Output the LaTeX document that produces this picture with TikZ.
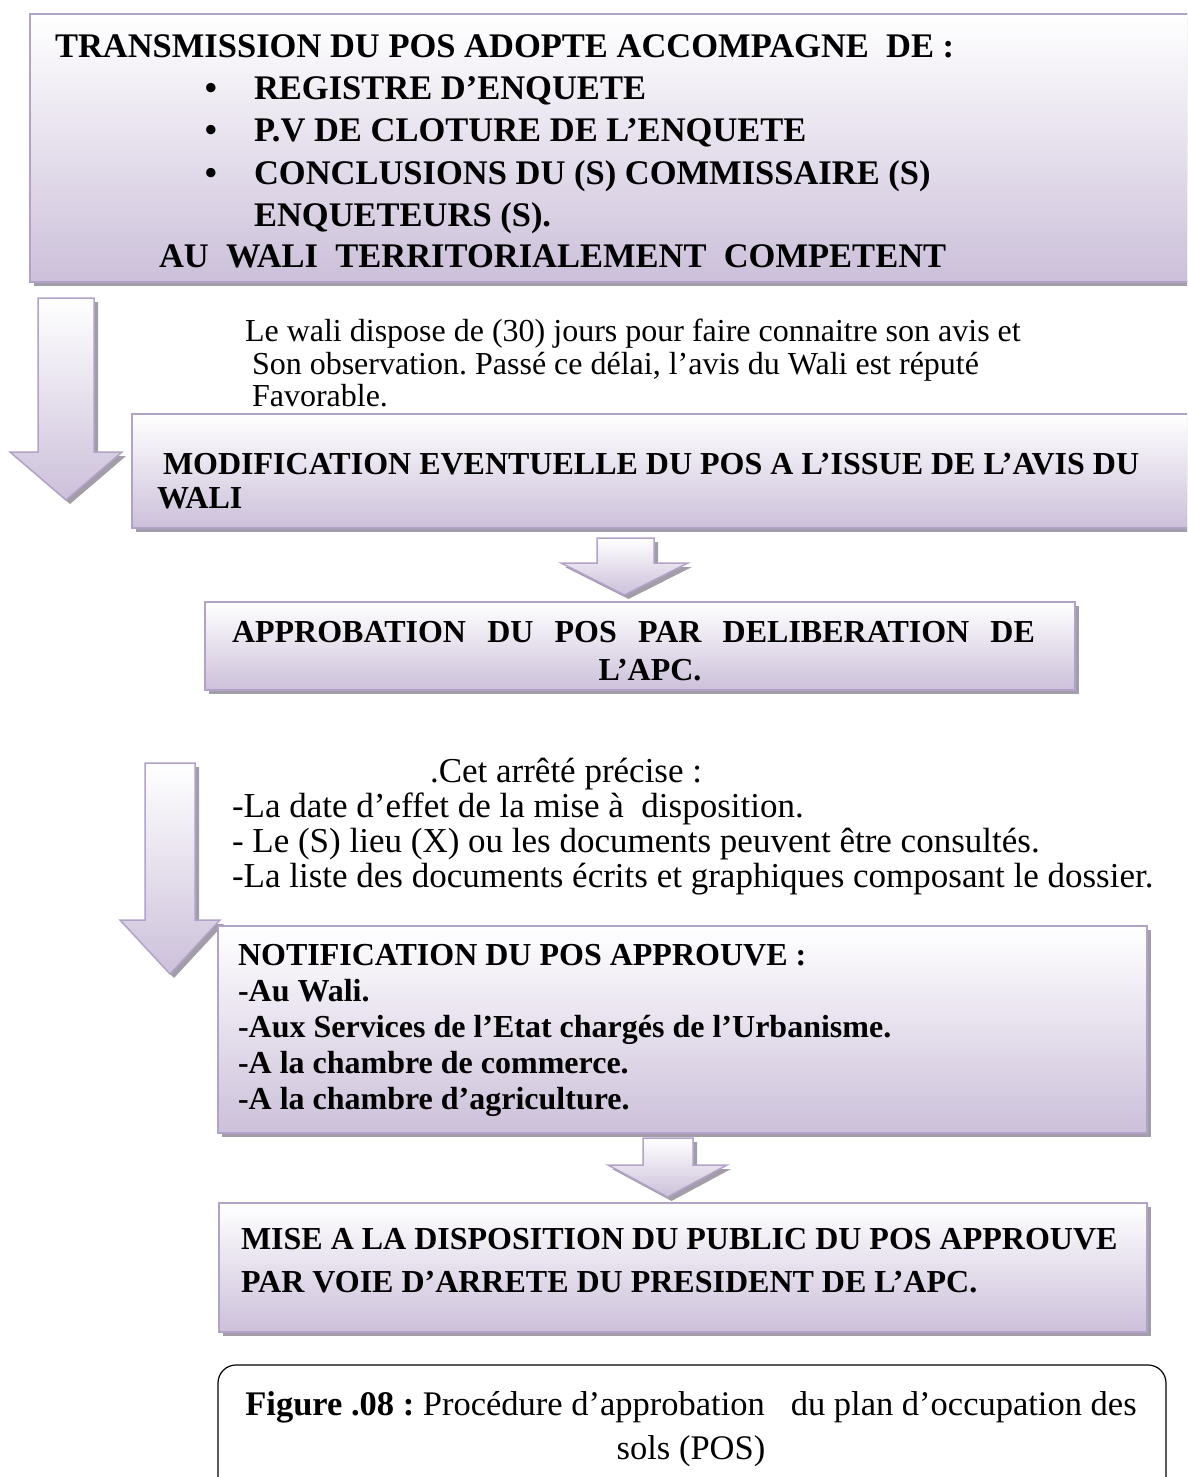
\documentclass[tikz,border=0pt]{standalone}
\usepackage{fontspec}
\setmainfont{Liberation Serif}[BoldFont={Liberation Serif Bold}]
\frenchspacing

\definecolor{lavline}{HTML}{B3A2C7}
\definecolor{lavfill}{HTML}{CCC0DA}
\definecolor{shadowc}{HTML}{A29DA8}

\tikzset{
  boxfill/.style={draw=lavline, line width=1.5pt, top color=white, bottom color=lavfill},
  lbl/.style={anchor=base west, inner sep=0pt, outer sep=0pt},
  clbl/.style={anchor=base, inner sep=0pt, outer sep=0pt},
}

\newcommand{\capsbig}{\fontsize{34.5}{40}\selectfont\bfseries}
\newcommand{\capsmid}{\fontsize{32}{37}\selectfont\bfseries}
\newcommand{\plaintext}{\fontsize{32}{36}\selectfont}
\newcommand{\listtext}{\fontsize{35}{38}\selectfont}
\newcommand{\captext}{\fontsize{34.5}{40}\selectfont}

% box with grey shadow: x1 y1 x2 y2
\newcommand{\blockbox}[4]{%
  \fill[shadowc] (#1+4,#2+4) rectangle (#3+4,#4+4);
  \shadedraw[boxfill] (#1,#2) rectangle (#3,#4);}

% down arrow: shaft left, shaft right, head left, head right, top, shoulder, tip
\newcommand{\blockarrow}[7]{%
  \fill[shadowc] (#1+4,#5+4) -- (#2+4,#5+4) -- (#2+4,#6+4) -- (#4+4,#6+4)
    -- ({(#3+#4)/2+4},#7+4) -- (#3+4,#6+4) -- (#1+4,#6+4) -- cycle;
  \shadedraw[boxfill] (#1,#5) -- (#2,#5) -- (#2,#6) -- (#4,#6)
    -- ({(#3+#4)/2},#7) -- (#3,#6) -- (#1,#6) -- cycle;}

\begin{document}
\begin{tikzpicture}[x=1pt,y=-1pt]
\clip (0,0) rectangle (1187,1477);
\useasboundingbox (0,0) rectangle (1187,1477);

% transmission
\blockbox{30}{14}{1200}{282}
\node[lbl] (trans) at (55,58) {\capsbig TRANSMISSION DU POS ADOPTE ACCOMPAGNE\ \ DE :};
\node[clbl] (dot1) at (211,100) {\capsbig •};
\node[clbl] (dot2) at (211,142) {\capsbig •};
\node[clbl] (dot3) at (211,184) {\capsbig •};
\node[lbl] (reg) at (254,100) {\capsbig REGISTRE D’ENQUETE};
\node[lbl] (pv) at (254,142) {\capsbig P.V DE CLOTURE DE L’ENQUETE};
\node[lbl] (concl) at (254,184) {\capsbig CONCLUSIONS DU (S) COMMISSAIRE (S)};
\node[lbl] (enq) at (254,226) {\capsbig ENQUETEURS (S).};
\node[lbl] (wali) at (159,267) {\capsbig AU\ \ WALI\ \ TERRITORIALEMENT\ \ COMPETENT};

% avis du wali
\blockarrow{38}{94}{10}{122}{298}{452}{500}
\node[lbl] (delay1) at (245,341) {\plaintext Le wali dispose de (30) jours pour faire connaitre son avis et};
\node[lbl] (delay2) at (252,374) {\plaintext Son observation. Passé ce délai, l’avis du Wali est réputé};
\node[lbl] (delay3) at (252,406) {\plaintext Favorable.};

\blockbox{132}{414}{1200}{528}
\node[lbl] (modif) at (163,474) {\capsmid MODIFICATION EVENTUELLE DU POS A L’ISSUE DE L’AVIS DU};
\node[lbl] (modif2) at (157,508) {\capsmid WALI};

% approbation
\blockarrow{597}{654}{561}{688}{538}{563}{595}
\blockbox{205}{602}{1075}{690}
\node[lbl] (appro) at (232,642) {\capsmid\makebox[803pt][s]{APPROBATION DU POS PAR DELIBERATION DE}};
\node[clbl] (appro2) at (650,680) {\capsmid L’APC.};

% arrete
\blockarrow{145}{195}{120}{220}{763}{920}{974}
\node[lbl] (cet) at (430,782) {\listtext .Cet arrêté précise :};
\node[lbl] (item1) at (232,817) {\listtext -La date d’effet de la mise à\ \ disposition.};
\node[lbl] (item2) at (232,852) {\listtext - Le (S) lieu (X) ou les documents peuvent être consultés.};
\node[lbl] (item3) at (232,887) {\listtext -La liste des documents écrits et graphiques composant le dossier.};

% notification
\blockbox{218}{926}{1147}{1133}
\node[lbl] (notif) at (238,965) {\capsmid NOTIFICATION DU POS APPROUVE :};
\node[lbl] (dest1) at (238,1001) {\capsmid -Au Wali.};
\node[lbl] (dest2) at (238,1037) {\capsmid -Aux Services de l’Etat chargés de l’Urbanisme.};
\node[lbl] (dest3) at (238,1073) {\capsmid -A la chambre de commerce.};
\node[lbl] (dest4) at (238,1109) {\capsmid -A la chambre d’agriculture.};

% mise a disposition
\blockarrow{643}{693}{608}{727}{1138}{1165}{1197}
\blockbox{219}{1203}{1147}{1332}
\node[lbl] (mise1) at (241,1249) {\capsmid MISE A LA DISPOSITION DU PUBLIC DU POS APPROUVE};
\node[lbl] (mise2) at (241,1292) {\capsmid PAR VOIE D’ARRETE DU PRESIDENT DE L’APC.};

% legende
\draw[line width=1.2pt, rounded corners=18pt] (218,1365) rectangle (1166,1510);
\node[clbl] (cap1) at (691,1415) {\captext\textbf{Figure .08 :} Procédure d’approbation\ \ \ du plan d’occupation des};
\node[clbl] (cap2) at (691,1459) {\captext sols (POS)};
\end{tikzpicture}
\end{document}
